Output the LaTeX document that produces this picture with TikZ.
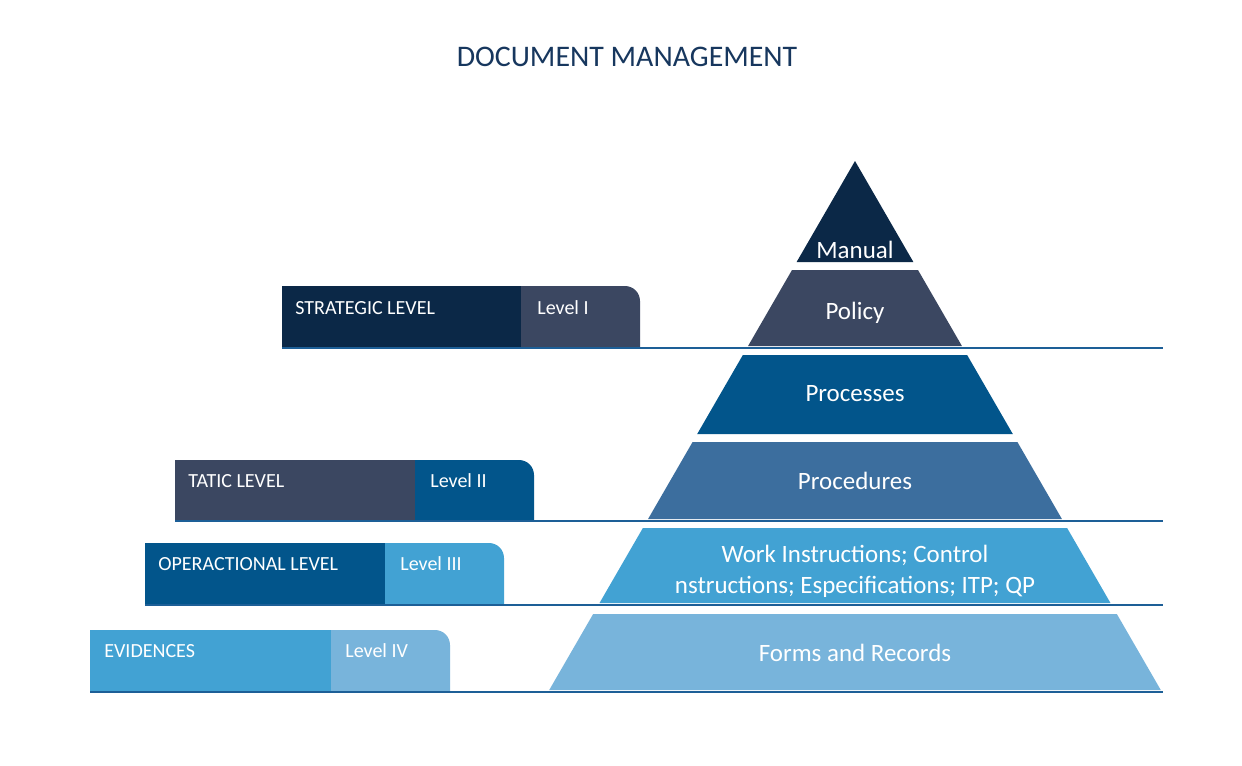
\documentclass[tikz,border=0pt]{standalone}
\usepackage{fontspec}
\setmainfont{Carlito}
\usetikzlibrary{positioning}
\definecolor{navy}{HTML}{0B2847}
\definecolor{slate}{HTML}{3B4761}
\definecolor{deepblue}{HTML}{02558B}
\definecolor{midblue}{HTML}{3C6E9E}
\definecolor{skyblue}{HTML}{42A2D3}
\definecolor{paleblue}{HTML}{78B4DB}
\definecolor{lineblue}{HTML}{1D5F97}
\definecolor{titleblue}{HTML}{17375E}
\tikzset{
  layertext/.style={font=\fontsize{14.2}{17.6}\selectfont,text=white,align=center,inner sep=0pt},
  tagtext/.style={font=\fontsize{11.4}{13}\selectfont,text=white,anchor=west,inner sep=0pt},
  levelline/.style={draw=lineblue,line width=1.2pt},
  titletext/.style={font=\fontsize{17}{20}\selectfont,text=titleblue}
}
% slice of the pyramid: top y, bottom y, colour
\newcommand{\slice}[3]{%
  \fill[#3] ({855-0.578*(#1-161)},#1) -- ({855+0.578*(#1-161)},#1)
    -- ({855+0.578*(#2-161)},#2) -- ({855-0.578*(#2-161)},#2) -- cycle;}
% level tab: left x, split x, right x, top y, bottom y, left colour, right colour
\newcommand{\leveltab}[7]{%
  \fill[#6] (#1,#4) rectangle (#2,#5);
  \fill[#7] (#2,#5) -- (#2,#4) -- ({#3-15},#4) arc[start angle=90,end angle=0,radius=0.3cm]
    -- (#3,#5) -- cycle;}

\begin{document}
\begin{tikzpicture}[x=0.02cm,y=-0.02cm]
  \fill[white] (0,0) rectangle (1242,765);
  \useasboundingbox (0,0) rectangle (1242,765);

  \node[titletext] (title) at (627,57) {DOCUMENT MANAGEMENT};

  \slice{161}{262}{navy}
  \slice{270}{346}{slate}
  \slice{355}{434}{deepblue}
  \slice{442}{519}{midblue}
  \slice{528}{603}{skyblue}
  \slice{614}{690}{paleblue}

  \node[layertext] (manual) at (855,250) {Manual};
  \node[layertext] (policy) at (855,313) {Policy};
  \node[layertext] (processes) at (855,394) {Processes};
  \node[layertext] (procedures) at (855,481) {Procedures};
  \node[layertext] (work) at (855,571) {Work Instructions; Control\\nstructions; Especifications; ITP; QP};
  \node[layertext] (forms) at (855,653) {Forms and Records};

  \leveltab{282}{521}{640}{286}{347}{navy}{slate}
  \leveltab{175}{415}{534}{460}{520}{slate}{deepblue}
  \leveltab{145}{385}{504}{543}{604}{deepblue}{skyblue}
  \leveltab{90}{331}{450}{630}{691}{skyblue}{paleblue}

  \draw[levelline] (282,348) -- (1163,348);
  \draw[levelline] (175,521) -- (1163,521);
  \draw[levelline] (145,605) -- (1163,605);
  \draw[levelline] (90,692) -- (1163,692);

  \node[tagtext] (strategic) at (295,308) {STRATEGIC LEVEL};
  \node[tagtext] (levelone) at (537,308) {Level I};
  \node[tagtext] (tatic) at (188,481) {TATIC LEVEL};
  \node[tagtext] (leveltwo) at (430,481) {Level II};
  \node[tagtext] (operactional) at (158,564) {OPERACTIONAL LEVEL};
  \node[tagtext] (levelthree) at (400,564) {Level III};
  \node[tagtext] (evidences) at (104,651) {EVIDENCES};
  \node[tagtext] (levelfour) at (345,651) {Level IV};
\end{tikzpicture}
\end{document}
